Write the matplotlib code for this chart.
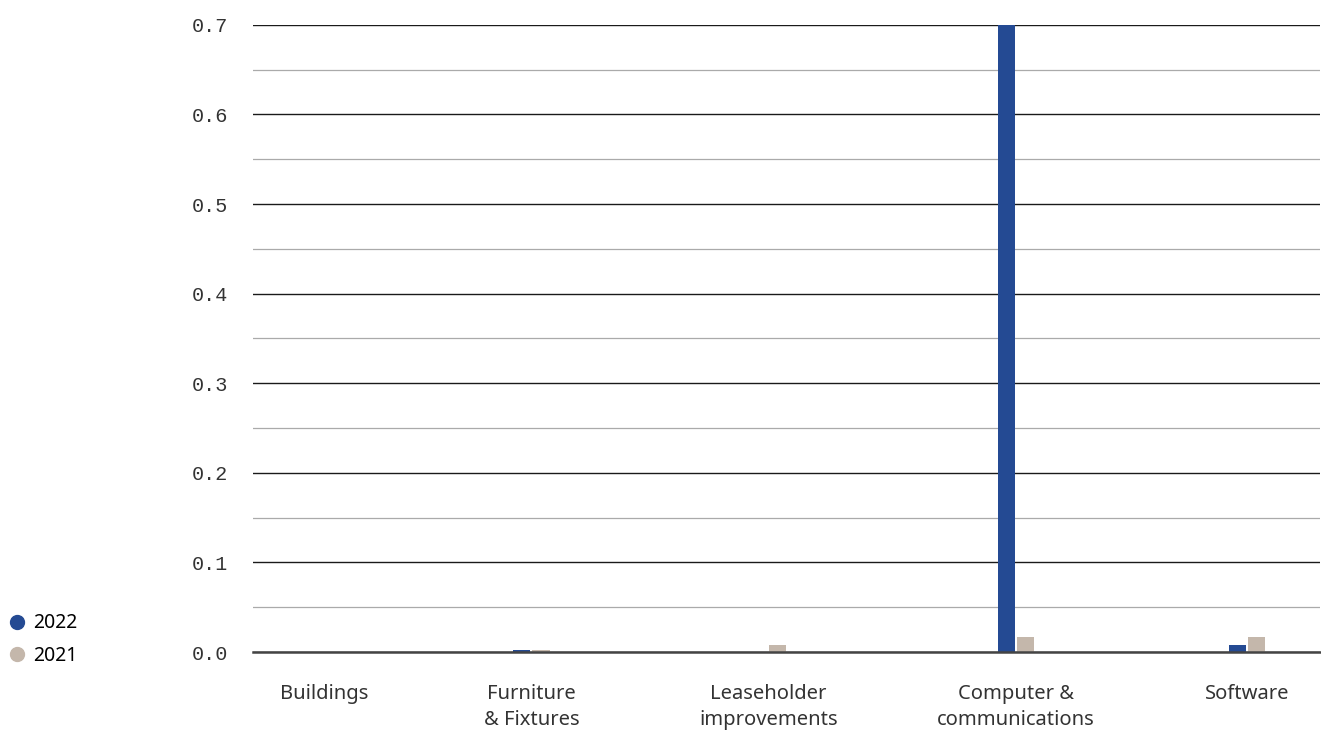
import numpy as np
import matplotlib.pyplot as plt
from matplotlib.lines import Line2D

# data
categories = ['Buildings', 'Furniture\n& Fixtures', 'Leaseholder\nimprovements',
              'Computer &\ncommunications', 'Software']
values_2022 = [0.0, 0.002, 0.0, 0.70, 0.008]
values_2021 = [0.0, 0.002, 0.008, 0.017, 0.017]

# layout
centers = np.array([0.067, 0.261, 0.483, 0.715, 0.932])
bar_w = 0.016
gap = 0.001
c2022 = '#244a93'
c2021 = '#c4b7ab'

fig = plt.figure(figsize=(13.21, 7.31), dpi=100)
ax = fig.add_axes([0.1915, 0.108, 0.8075, 0.858])

ax.bar(centers - bar_w / 2 - gap, values_2022, bar_w, color=c2022, zorder=3)
ax.bar(centers + bar_w / 2 + gap, values_2021, bar_w, color=c2021, zorder=3)

ax.set_xlim(0, 1)
ax.set_ylim(0, 0.7)
ax.set_yticks(np.arange(0, 0.71, 0.1))
ax.set_yticklabels([f'{v:.1f}' for v in np.arange(0, 0.71, 0.1)],
                   family='Liberation Mono', fontsize=14.5, color='#333333')
ax.set_yticks(np.arange(0.05, 0.7, 0.1), minor=True)
ax.set_xticks(centers)
ax.set_xticklabels(categories, fontsize=14.5, color='#333333', family='Noto Sans',
                   linespacing=1.4)
ax.tick_params(axis='both', which='both', length=0)
ax.tick_params(axis='y', pad=18)
ax.tick_params(axis='x', pad=23)

ax.grid(axis='y', which='major', color='#1a1a1a', linewidth=1.0, zorder=1)
ax.grid(axis='y', which='minor', color='#aaaaaa', linewidth=0.9, zorder=1)
for s in ['top', 'right', 'left']:
    ax.spines[s].set_visible(False)
ax.spines['bottom'].set_color('#444444')
ax.spines['bottom'].set_linewidth(1.8)
ax.spines['bottom'].set_zorder(4)

# legend in the lower-left corner
handles = [Line2D([], [], marker='o', linestyle='', markersize=10, color=c2022),
           Line2D([], [], marker='o', linestyle='', markersize=10, color=c2021)]
fig.legend(handles, ['2022', '2021'], loc='lower left', bbox_to_anchor=(-0.015, 0.065),
           frameon=False, handletextpad=-0.2, labelspacing=0.65,
           prop={'family': 'Noto Sans', 'size': 14})

fig.savefig('out.png', dpi=100)
